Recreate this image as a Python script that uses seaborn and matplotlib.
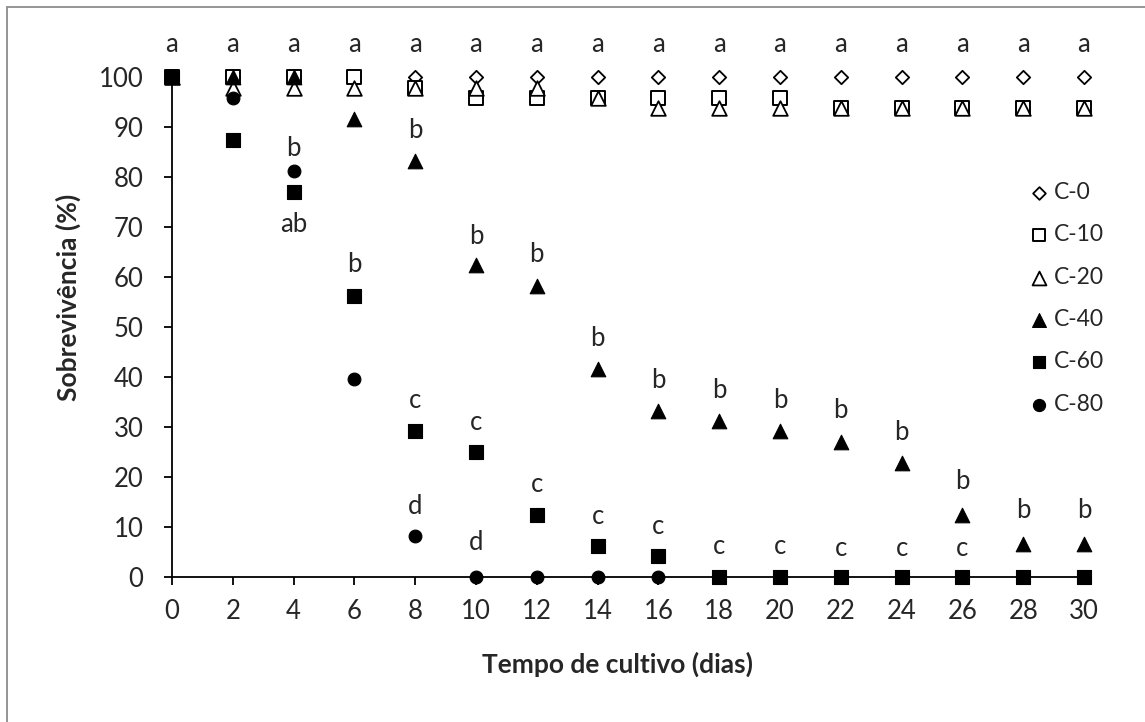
import matplotlib
matplotlib.use("Agg")
import matplotlib.pyplot as plt
from matplotlib.patches import Rectangle
import seaborn as sns
import pandas as pd

# data
days = [0, 2, 4, 6, 8, 10, 12, 14, 16, 18, 20, 22, 24, 26, 28, 30]
c0 = [100] * 16
c10 = [100, 100, 100, 100, 97.9, 95.8, 95.8, 95.8, 95.8, 95.8, 95.8, 93.75, 93.75, 93.75, 93.75, 93.75]
c20 = [100, 97.9, 97.9, 97.9, 97.9, 97.9, 97.9, 95.8, 93.75, 93.75, 93.75, 93.75, 93.75, 93.75, 93.75, 93.75]
c40 = [100, 100, 100, 91.7, 83.3, 62.5, 58.3, 41.7, 33.3, 31.25, 29.2, 27.1, 22.9, 12.5, 6.6, 6.6]
c60 = [100, 87.5, 77.1, 56.25, 29.2, 25, 12.5, 6.25, 4.2, 0, 0, 0, 0, 0, 0, 0]
c80 = [100, 95.8, 81.25, 39.6, 8.3, 0, 0, 0, 0, 0, 0, 0, 0, 0, 0, 0]

series_names = ["C-0", "C-10", "C-20", "C-40", "C-60", "C-80"]
series_values = [c0, c10, c20, c40, c60, c80]

# significance letters: top row over every day, then the rest
top_letter_y = 106.4
letter_days = [4, 4, 6, 8, 8, 8, 10, 10, 10, 12, 12, 14, 14, 16, 16, 18, 18, 20, 20,
               22, 22, 24, 24, 26, 26, 28, 30]
letter_y = [85.6, 70.4, 62.4, 89.3, 35.3, 14.1, 68.0, 31.0, 6.9, 64.4, 18.4, 47.7, 12.2,
            39.4, 10.2, 37.4, 6.1, 35.4, 6.1, 33.2, 5.8, 28.9, 5.8, 19.1, 5.8, 13.2, 13.2]
letter_txt = ["b", "ab", "b", "b", "c", "d", "b", "c", "d", "b", "c", "b", "c",
              "b", "c", "b", "c", "b", "c", "b", "c", "b", "c", "b", "c", "b", "b"]

# marker style per series: (marker, size, face, edge width)
styles = {
    "C-0": ("D", 6.8, "white", 1.3),
    "C-10": ("s", 9.5, "white", 1.4),
    "C-20": ("^", 10.5, "white", 1.3),
    "C-40": ("^", 10.5, "black", 0.8),
    "C-60": ("s", 9.5, "black", 0.8),
    "C-80": ("o", 9.2, "black", 0.8),
}

df = pd.DataFrame({"dia": days * len(series_names),
                   "sobrev": sum(series_values, []),
                   "serie": [n for n in series_names for _ in days]})

sns.set_style("ticks")
plt.rcParams["font.family"] = ["Lato", "DejaVu Sans"]

fig = plt.figure(figsize=(11.45, 7.22), dpi=100)
ax = fig.add_axes([172 / 1145, 145 / 722, 912 / 1145, 500 / 722])

for name in series_names:
    mk, ms, face, lw = styles[name]
    sns.scatterplot(data=df[df.serie == name], x="dia", y="sobrev", ax=ax,
                    marker=mk, s=ms ** 2, color=face, edgecolor="black",
                    linewidth=lw, label=name, clip_on=False, zorder=3)

for d in days:
    ax.text(d, top_letter_y, "a", ha="center", va="center", fontsize=18.5, clip_on=False)
for d, y, t in zip(letter_days, letter_y, letter_txt):
    ax.text(d, y, t, ha="center", va="center", fontsize=18.5)

ax.set_xlim(0, 30)
ax.set_ylim(0, 100)
ax.set_xticks(days)
ax.set_yticks(range(0, 101, 10))
sns.despine(ax=ax)
for sp in ["left", "bottom"]:
    ax.spines[sp].set_linewidth(1.3)
    ax.spines[sp].set_color("black")
ax.tick_params(direction="out", length=5.5, width=1.3, color="black", labelsize=18.5)
ax.tick_params(axis="x", pad=10)
ax.tick_params(axis="y", pad=15)

ax.set_xlabel("Tempo de cultivo (dias)", fontsize=19, fontweight="bold")
ax.set_ylabel("Sobrevivência (%)", fontsize=19, fontweight="bold")
ax.xaxis.set_label_coords((618 - 172) / 912, -0.150)
ax.yaxis.set_label_coords(-0.100, 0.56)

ax.legend(loc="upper left", bbox_to_anchor=(1030 / 1145, 1 - 182 / 722),
          bbox_transform=fig.transFigure, frameon=False, fontsize=16.5,
          handlelength=0.8, handletextpad=0.25, labelspacing=0.93,
          borderpad=0, borderaxespad=0, markerscale=0.95)

# grey frame, only its left and top edges fall inside the picture
fig.patches.append(Rectangle((6.5 / 1145, -0.1), 1.2, 1.1 - 7 / 722,
                             transform=fig.transFigure, fill=False,
                             edgecolor="#8c8c8c", linewidth=1.3))

fig.savefig("out.png", dpi=100)
